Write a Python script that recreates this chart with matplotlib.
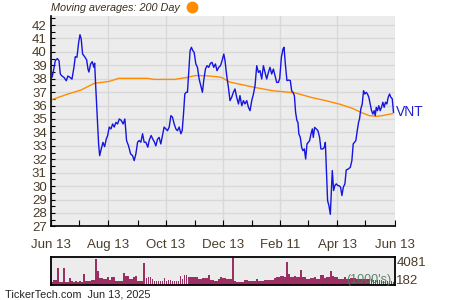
import matplotlib
matplotlib.use("Agg")
import matplotlib.pyplot as plt
import numpy as np
import pandas as pd

plt.rcParams['font.family'] = ['Liberation Sans', 'DejaVu Sans']

start = pd.Timestamp('2024-06-13')

# price (day offset from Jun 13 2024, close)
price_days = [0, 1.1, 2.4, 4.6, 6.7, 8.5, 9.9, 11.7, 13.8, 16.2, 18.0, 20.2, 22.3, 24.4, 25.8, 27.6,
              29.4, 30.8, 32.1, 33.6, 35.8, 37.9, 39.3, 40.3, 42.1, 43.8, 45.6, 46.4, 47.4, 48.5, 49.5,
              50.6, 51.7, 53.4, 55.2, 57.0, 58.7, 60.2, 61.9, 63.7, 65.5, 67.2, 69.0, 70.8, 72.5, 74.6,
              76.7, 78.5, 80.3, 82.4, 84.6, 86.7, 88.4, 90.2, 92.0, 93.7, 95.5, 97.3, 99.0, 100.8,
              102.9, 104.3, 106.4, 108.2, 110.0, 111.4, 113.2, 114.9, 116.7, 118.5, 120.2, 122.0,
              123.8, 125.6, 127.4, 129.1, 130.9, 132.7, 134.4, 136.2, 138.0, 139.4, 140.8, 142.2,
              143.6, 145.0, 146.5, 147.8, 149.2, 150.7, 152.1, 153.9, 155.6, 157.4, 159.2, 160.9,
              162.3, 164.1, 165.8, 167.6, 169.4, 171.1, 172.9, 174.7, 176.4, 178.2, 180.1, 181.8,
              183.6, 184.9, 186.7, 188.5, 190.2, 192.0, 193.8, 195.5, 197.3, 199.2, 200.8, 202.7,
              204.5, 206.1, 208.0, 209.8, 211.5, 213.3, 215.1, 216.8, 218.6, 220.4, 222.1, 223.9,
              225.7, 227.4, 229.2, 231.0, 232.7, 234.5, 236.3, 238.0, 239.8, 241.6, 243.0, 244.8,
              246.5, 247.6, 249.0, 250.7, 252.5, 254.3, 255.7, 257.1, 258.6, 259.9, 261.3, 262.4,
              263.4, 264.9, 266.3, 267.7, 269.2, 270.6, 272.0, 273.4, 274.8, 276.2, 277.7, 278.7,
              280.1, 281.9, 283.6, 285.4, 286.8, 288.9, 290.4, 291.5, 292.5, 293.9, 295.3, 296.8,
              297.8, 298.9, 300.3, 301.6, 303.1, 304.8, 305.9, 307.7, 309.1, 310.6, 312.3, 313.7,
              315.9, 318.0, 319.7, 321.1, 322.5, 323.9, 325.4, 326.8, 327.8, 329.2, 330.7, 332.1,
              333.5, 334.9, 336.3, 337.7, 339.2, 340.6, 342.0, 343.4, 344.5, 345.6, 346.9, 348.3,
              349.8, 351.2, 352.6, 354.0, 355.4, 356.9, 358.3, 359.7, 361.1, 362.6, 363.9]
price = [38.72, 38.1, 38.5, 39.35, 39.5, 39.35, 38.35, 38.2, 38.1, 37.85, 38.2, 38.1, 37.97, 38.85, 39.64, 39.6,
         40.7, 41.28, 40.96, 39.84, 39.64, 39.4, 38.72, 38.5, 39.1, 39.27, 38.85, 39.16, 37.6, 36.1, 34.6,
         33.14, 32.27, 32.77, 33.26, 32.94, 33.5, 33.77, 34.4, 34.26, 34.63, 34.4, 34.75, 34.63, 35.0, 34.9,
         34.63, 35.0, 33.4, 33.0, 32.4, 32.27, 31.9, 32.4, 33.27, 33.4, 33.27, 33.9, 33.27, 33.27,
         32.9, 33.4, 33.77, 33.5, 33.27, 33.0, 33.5, 33.63, 33.14, 33.77, 34.4, 34.26,
         34.13, 34.4, 35.25, 35.13, 34.63, 34.26, 34.13, 34.4, 33.9, 34.13, 35.37, 36.86,
         36.99, 36.99, 38.6, 40.09, 40.34, 40.09, 39.97, 39.1, 38.85, 37.98, 37.48, 36.99,
         37.86, 38.72, 38.97, 38.85, 39.15, 39.22, 38.85, 39.1, 38.6, 38.85, 38.97, 39.35,
         39.84, 39.35, 38.23, 37.36, 36.37, 36.62, 36.99, 37.24, 36.62, 36.12, 36.74, 35.99,
         36.37, 36.12, 36.37, 35.87, 35.62, 36.37, 36.86, 37.48, 38.97, 38.47, 38.6, 37.98,
         38.97, 38.47, 37.98, 38.47, 38.85, 38.35, 38.72, 38.23, 37.73, 37.73, 38.0, 39.6,
         40.2, 40.34, 39.1, 37.86, 37.9, 37.86, 37.1, 36.99, 36.74, 35.5, 34.88, 34.75,
         33.88, 33.63, 32.89, 32.64, 32.77, 32.02, 33.14, 33.26, 33.39, 33.88, 34.26, 33.63,
         34.38, 34.26, 34.13, 33.63, 32.77, 32.77, 32.89, 33.26, 31.4, 28.92, 28.55, 27.9,
         29.42, 31.16, 29.67, 30.04, 30.17, 30.04, 30.04, 29.92, 29.3, 29.92, 30.17, 31.2,
         31.28, 31.4, 31.9, 33.14, 33.26, 33.39, 34.13, 34.75, 35.0, 35.75, 36.12, 37.11,
         36.86, 36.99, 36.86, 36.62, 36.12, 35.62, 35.37, 35.62, 35.25, 35.87, 35.62, 35.99,
         35.62, 35.87, 36.25, 35.87, 36.25, 36.12, 36.62, 36.86, 36.62, 36.5, 35.5]

# 200-day moving average
ma_days = [0, 18, 32, 46, 62, 72, 90, 102, 110, 123, 131, 145, 153, 163, 176, 181, 190, 216, 236, 259,
           277, 293, 307, 320, 331, 338, 346, 352, 363]
ma = [36.42, 36.86, 37.16, 37.66, 37.8, 38.03, 38.03, 38.03, 37.95, 37.95, 37.95, 38.1, 38.23, 38.23,
      38.15, 38.1, 37.75, 37.36, 37.1, 36.95, 36.6, 36.35, 36.1, 35.8, 35.45, 35.25, 35.2, 35.25, 35.4]

# volume (thousands), evenly spaced across the year
volume = [340, 680, 680, 2530, 340, 340, 2430, 340, 340, 970, 580, 390, 580, 390, 580, 390, 1560, 490,
          490, 490, 680, 680, 3740, 2040, 970, 970, 780, 780, 1070, 680, 1070, 1170, 580, 580, 580, 580,
          1800, 1310, 1310, 780, 780, 1070, 1310, 580, 580, 580, 3160, 970, 1170, 1170, 780, 490, 490,
          490, 490, 490, 970, 580, 680, 680, 490, 490, 490, 490, 1310, 830, 1460, 1460, 1070, 1070,
          1070, 1070, 1070, 780, 780, 970, 970, 970, 1460, 680, 680, 580, 580, 830, 1070, 970, 970,
          780, 830, 780, 4081, 490, 340, 340, 340, 340, 680, 680, 580, 580, 490, 490, 830, 580, 580,
          580, 680, 680, 680, 680, 680, 970, 1070, 1070, 1310, 1310, 1170, 3400, 1560, 1170, 1170,
          1310, 1070, 1070, 2140, 1170, 1170, 830, 830, 970, 970, 1170, 830, 830, 1460, 1460, 970,
          1070, 1070, 2040, 1310, 1170, 1170, 830, 830, 830, 1070, 830, 830, 970, 970, 970, 830, 830,
          830, 830, 830, 830, 830, 830, 680, 680, 680, 680, 680, 580, 580, 580, 580, 580, 340]
vol_max_label = '4081'
vol_min_label = '182'

major_dates = ['2024-06-13', '2024-08-13', '2024-10-13', '2024-12-13', '2025-02-11', '2025-04-13', '2025-06-13']
major_labels = ['Jun 13', 'Aug 13', 'Oct 13', 'Dec 13', 'Feb 11', 'Apr 13', 'Jun 13']
minor_dates = ['2024-07-13', '2024-09-13', '2024-11-13', '2025-01-13', '2025-03-13', '2025-05-13']

major_pos = [(pd.Timestamp(d) - start).days for d in major_dates]
minor_pos = [(pd.Timestamp(d) - start).days for d in minor_dates]
xmax = major_pos[-1]

txt = '#4a3c28'
bg = '#ececec'
grid = '#d8d8d8'

fig = plt.figure(figsize=(4.5, 3.0), dpi=100)
ax = fig.add_axes([0.1133, 0.2453, 0.7634, 0.7013])
ax.set_facecolor(bg)
ax.plot(price_days, price, color='#1515e0', lw=1.0, zorder=3)
ax.plot(ma_days, ma, color='#ff8c00', lw=1.0, zorder=2)
ax.set_xlim(0, xmax)
ax.set_ylim(27, 42.67)
ax.set_yticks(np.arange(27, 43, 1))
ax.set_yticks(np.arange(27.5, 42.6, 1), minor=True)
ax.set_xticks(major_pos)
ax.set_xticklabels(major_labels)
ax.set_xticks(minor_pos, minor=True)
ax.grid(True, which='major', color=grid, lw=1.0, zorder=0)
ax.set_axisbelow(True)
for s in ['top', 'right']:
    ax.spines[s].set_visible(False)
for s in ['left', 'bottom']:
    ax.spines[s].set_color('black')
    ax.spines[s].set_linewidth(1.2)
ax.tick_params(axis='y', which='both', direction='in', length=3, width=0.8, labelsize=9.5,
               labelcolor=txt, pad=3)
ax.tick_params(axis='x', which='both', direction='in', length=4, width=0.8, labelsize=9.5,
               labelcolor=txt, pad=9)
ax.text(xmax + 2, price[-1], 'VNT', color='#2222cc', fontsize=10, va='center', ha='left',
        clip_on=False)

fig.text(0.113, 0.972, 'Moving averages: 200 Day', fontsize=7.8, style='italic', color='#3a3020',
         va='center', ha='left')
fig.lines.append(plt.Line2D([0.427], [0.976], marker='o', markersize=7.5, color='#ff8c00',
                            transform=fig.transFigure, figure=fig))

vax = fig.add_axes([0.1133, 0.051, 0.7634, 0.094])
vax.set_facecolor(bg)
vpos = (np.arange(len(volume)) + 0.5) * xmax / len(volume)
vax.bar(vpos, volume, width=xmax / len(volume) * 0.9, color='#9c2f62', linewidth=0)
vax.set_xlim(0, xmax)
vax.set_ylim(0, max(volume) * 1.02)
vax.set_xticks([])
vax.set_yticks([])
for s in vax.spines.values():
    s.set_linewidth(1.3)
    s.set_color('black')
vax.text(1.005, 0.78, vol_max_label, transform=vax.transAxes, fontsize=9.5, color=txt,
         va='center', ha='left')
vax.text(1.005, 0.12, vol_min_label, transform=vax.transAxes, fontsize=9.5,
         color=txt, va='center', ha='left')
vax.text(0.99, 0.18, "(1000's)", transform=vax.transAxes, fontsize=9, color='#4e7a5c',
         va='center', ha='right', alpha=0.9)

fig.text(0.012, 0.0075, 'TickerTech.com  Jun 13, 2025', fontsize=7.8, color='#222222',
         va='baseline', ha='left')

fig.savefig('out.png', dpi=100)
